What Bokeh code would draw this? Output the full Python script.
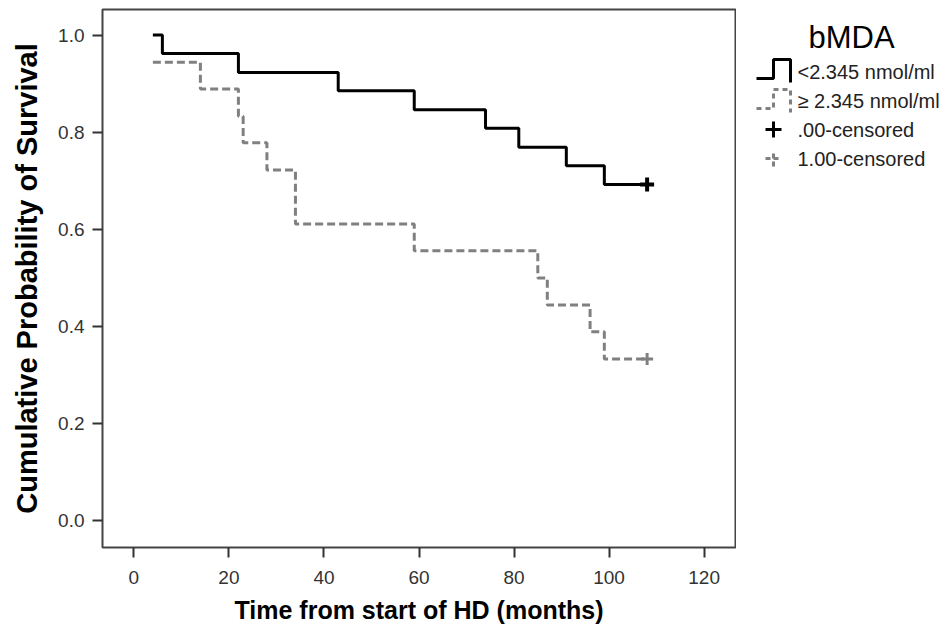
from bokeh.plotting import figure
from bokeh.models import Range1d, FixedTicker, CustomJSTickFormatter
from bokeh.layouts import row
from bokeh.core.properties import value
from bokeh.embed import file_html
from bokeh.resources import INLINE

# ---- data ----
low_time = [4, 6, 22, 43, 59, 74, 81, 91, 99, 108]
low_surv = [1.0, 0.962, 0.923, 0.885, 0.846, 0.808, 0.769, 0.731, 0.692, 0.692]
high_time = [4, 14, 22, 23, 28, 34, 59, 85, 87, 96, 99, 108]
high_surv = [0.944, 0.889, 0.833, 0.778, 0.722, 0.611, 0.556, 0.500, 0.444, 0.389, 0.333, 0.333]
low_cens_time = [108]
low_cens_surv = [0.692]
high_cens_time = [108]
high_cens_surv = [0.333]
x_ticks = [0, 20, 40, 60, 80, 100, 120]
y_ticks = [0.0, 0.2, 0.4, 0.6, 0.8, 1.0]
legend_title = "bMDA"
legend_labels = ["<2.345 nmol/ml", "\u2265 2.345 nmol/ml", ".00-censored", "1.00-censored"]

FONT = "Liberation Sans"
GRAY = "#808080"

H = 627
TOP = 9
BOTTOM = 80

p = figure(width=736, height=H, output_backend="svg", toolbar_location=None,
           x_range=Range1d(-6.6, 126.6), y_range=Range1d(-0.055, 1.0525),
           min_border_left=102, min_border_top=TOP, min_border_bottom=BOTTOM, min_border_right=1)
p.grid.visible = False
p.outline_line_color = "#444444"
p.outline_line_width = 2
p.background_fill_color = "white"
p.border_fill_color = "white"

p.step(low_time, low_surv, mode="after", line_color="black", line_width=3)
p.step(high_time, high_surv, mode="after", line_color=GRAY, line_width=3, line_dash="8 4")
p.scatter(low_cens_time, low_cens_surv, marker="cross", size=14, line_color="black", line_width=4)
p.scatter(high_cens_time, high_cens_surv, marker="cross", size=12, line_color=GRAY, line_width=3)

for ax in (p.xaxis[0], p.yaxis[0]):
    ax.axis_line_color = None
    ax.major_tick_line_color = "#333333"
    ax.major_tick_line_width = 2
    ax.major_tick_out = 10
    ax.major_tick_in = 0
    ax.minor_tick_line_color = None
    ax.major_label_text_font = FONT
    ax.major_label_text_font_size = "19px"
    ax.major_label_text_color = "#333333"
    ax.axis_label_text_font = FONT
    ax.axis_label_text_font_style = "bold"
    ax.axis_label_text_color = "black"

p.xaxis[0].ticker = FixedTicker(ticks=x_ticks)
p.yaxis[0].ticker = FixedTicker(ticks=y_ticks)
p.yaxis[0].formatter = CustomJSTickFormatter(code="return tick.toFixed(1);")
p.xaxis[0].axis_label = "Time from start of HD (months)"
p.yaxis[0].axis_label = "Cumulative Probability of Survival"
p.xaxis[0].axis_label_text_font_size = "25px"
p.yaxis[0].axis_label_text_font_size = "29px"
p.xaxis[0].major_label_standoff = 13
p.yaxis[0].major_label_standoff = 8
p.xaxis[0].axis_label_standoff = 9
p.yaxis[0].axis_label_standoff = 12

# ---- legend panel (positions in page pixels; frame aligned with the main frame) ----
LW = 210
lg = figure(width=LW, height=H, output_backend="svg", toolbar_location=None,
            x_range=Range1d(736, 736 + LW), y_range=Range1d(H - BOTTOM, TOP),
            min_border_left=0, min_border_right=0, min_border_top=TOP, min_border_bottom=BOTTOM)
lg.axis.visible = False
lg.grid.visible = False
lg.outline_line_color = None
lg.border_fill_color = "white"

lg.text([851], [37], text=[legend_title], text_font=value(FONT), text_font_size="31px",
        text_align="center", text_baseline="middle", text_color="black")
lg.text([797] * 4, [71, 100, 129, 158], text=legend_labels, text_font=value(FONT),
        text_font_size="20px", text_align="left", text_baseline="middle", text_color="#222222")
lg.line([756, 773, 773, 790, 790], [78, 78, 59, 59, 82], line_color="black", line_width=3)
lg.line([756, 773, 773, 790, 790], [108, 108, 89, 89, 112], line_color=GRAY, line_width=3, line_dash="5 4")
lg.scatter([773], [129], marker="cross", size=16, line_color="black", line_width=3)
lg.scatter([773], [158], marker="cross", size=16, line_color=GRAY, line_width=3, line_dash="5 3")

layout = row(p, lg)
open("out.html", "w").write(file_html(layout, INLINE))
